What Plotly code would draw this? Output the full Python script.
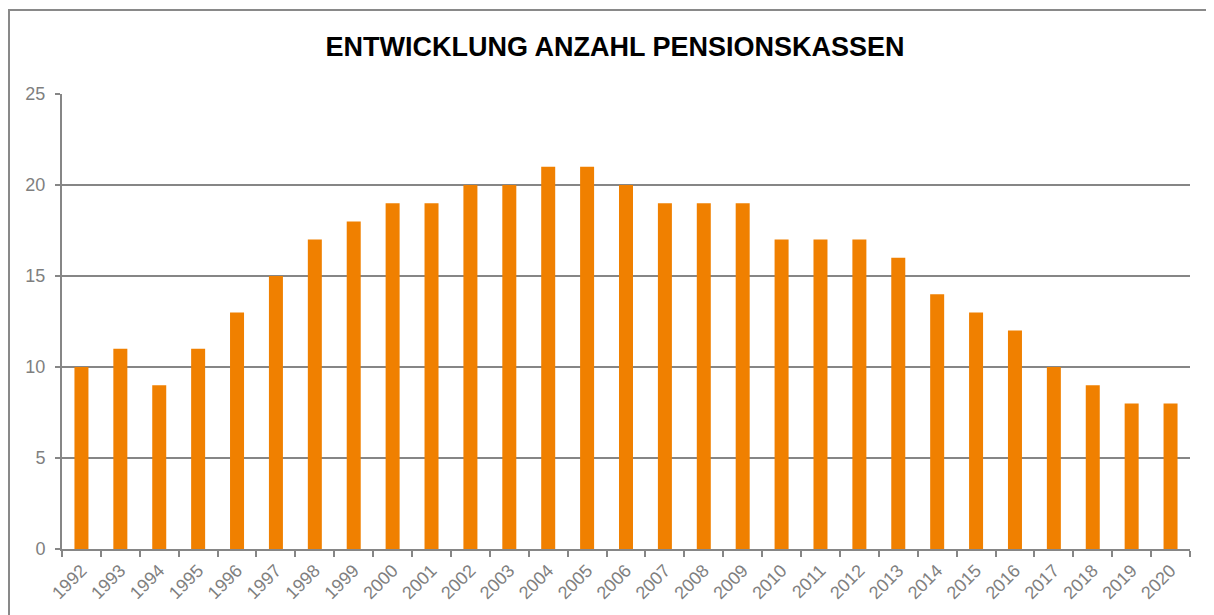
import plotly.graph_objects as go

years = [str(y) for y in range(1992, 2021)]
counts = [10, 11, 9, 11, 13, 15, 17, 18, 19, 19, 20, 20, 21, 21, 20, 19, 19, 19,
          17, 17, 17, 16, 14, 13, 12, 10, 9, 8, 8]

OFF = 8  # page body margin
W, H = 1214 - OFF, 615 - OFF
ml, mr, mt, mb = 62 - OFF, 24, 94 - OFF, 66
pw = W - ml - mr
ph = H - mt - mb

def px2x(x):
    return (x - OFF - ml) / pw

def px2y(y):
    return 1 - (y - OFF - mt) / ph

fig = go.Figure(go.Bar(x=years, y=counts, marker_color="#F08000", marker_line_width=0))

fig.update_layout(
    width=W, height=H,
    margin=dict(l=ml, r=mr, t=mt, b=mb),
    paper_bgcolor="white", plot_bgcolor="white",
    bargap=0.64,
    showlegend=False,
    font=dict(family="Arial, Liberation Sans", color="#7f7f7f"),
    title=dict(text="<b>ENTWICKLUNG ANZAHL PENSIONSKASSEN</b>",
               x=px2x(615), xref="paper", xanchor="center",
               y=1 - (47 - OFF) / H, yanchor="middle",
               font=dict(size=27, color="#000000", family="Arial, Liberation Sans")),
    xaxis=dict(type="category", tickangle=-45, tickfont=dict(size=18, color="#7f7f7f"),
               showline=True, linecolor="#868686", linewidth=2,
               ticks="outside", ticklen=6, tickcolor="#868686", tickwidth=2,
               tickson="boundaries", showgrid=False, ticklabelstandoff=2),
    yaxis=dict(range=[0, 25], dtick=5, tickfont=dict(size=18, color="#7f7f7f"),
               showline=True, linecolor="#868686", linewidth=2,
               ticks="outside", ticklen=5, tickcolor="#868686", tickwidth=2,
               ticklabelstandoff=6,
               showgrid=True, gridcolor="#868686", gridwidth=1.5, zeroline=False),
    shapes=[dict(type="rect", xref="paper", yref="paper",
                 x0=px2x(9), y0=px2y(H + 80), x1=px2x(W + 80), y1=px2y(10),
                 line=dict(color="#898989", width=2), fillcolor="rgba(0,0,0,0)", layer="below")],
)

fig.write_html("out.html")
